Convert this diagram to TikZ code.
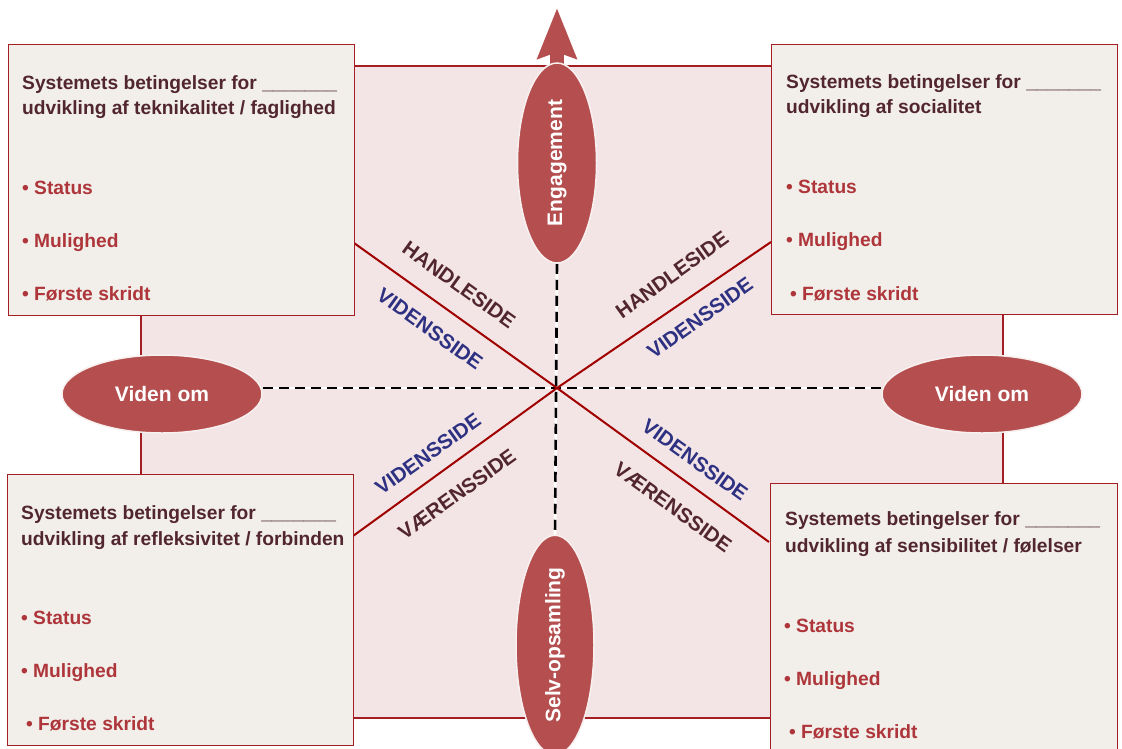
\documentclass[tikz,border=0pt]{standalone}
\usepackage{fontspec}
\setmainfont{Liberation Sans}
\usetikzlibrary{shapes.geometric,arrows.meta}
\definecolor{pinkbg}{HTML}{F3E5E5}
\definecolor{boxbg}{HTML}{F2EFEB}
\definecolor{dred}{HTML}{A31F24}
\definecolor{ellc}{HTML}{B54E4E}
\definecolor{titlec}{HTML}{52262F}
\definecolor{bullc}{HTML}{AE363B}
\definecolor{navyc}{HTML}{2E3182}
\definecolor{linered}{HTML}{A00000}
\tikzset{
  infobox/.style={draw=dred, fill=boxbg, line width=1pt, inner sep=0pt, anchor=north west},
  titletext/.style={anchor=base west, inner sep=0pt, text=titlec, font=\fontsize{19.2}{22}\selectfont\bfseries},
  bullettext/.style={anchor=base west, inner sep=0pt, text=bullc, font=\fontsize{19.2}{22}\selectfont\bfseries},
  ellnode/.style={ellipse, fill=ellc, draw=pinkbg!60!white, line width=1.5pt, inner sep=0pt, text=white, font=\fontsize{21}{24}\selectfont\bfseries},
  dashline/.style={black, line width=2.6pt, dash pattern=on 10pt off 6pt},
  gapline/.style={white, line width=2.6pt},
  diagline/.style={linered, line width=2pt},
  sidelabel/.style={inner sep=0pt, font=\fontsize{20.5}{24}\selectfont\bfseries},
}
\begin{document}
\begin{tikzpicture}[x=1pt,y=-1pt]
\useasboundingbox (0,0) rectangle (1122,748);
% background panel
\fill[pinkbg, draw=dred, line width=1.2pt] (141,66) rectangle (1003,718);

% ellipses
\node[ellnode, minimum width=79pt, minimum height=200pt] (eng) at (557,163) {\rotatebox{90}{Engagement}};
\node[ellnode, minimum width=78pt, minimum height=198pt] (selv) at (555,645) {\rotatebox{90}{Selv-opsamling}};
\node[ellnode, minimum width=200pt, minimum height=78pt] (vl) at (162,394) {Viden om};
\node[ellnode, minimum width=200pt, minimum height=78pt] (vr) at (982,394) {Viden om};

% diagonals centre
\coordinate (ctr) at (557,388);

% dashed axes
\draw[gapline] (eng.south) -- (selv.north);
\draw[dashline] (eng.south) -- (selv.north);
\draw[gapline] (vl.east |- ctr) -- (vr.west |- ctr);
\draw[dashline] (vl.east |- ctr) -- (vr.west |- ctr);

% diagonals
\coordinate (dTL) at (354,243);
\coordinate (dBR) at (769,542);
\coordinate (dTR) at (771,242);
\coordinate (dBL) at (353,536);
\draw[diagline] (dTL) -- (ctr) -- (dBR);
\draw[diagline] (dTR) -- (ctr) -- (dBL);

% engagement arrow
\coordinate (arrtip) at (557,8);
\draw[ellc, line width=14pt, -{Stealth[length=50pt 0 0, width=38pt 0 0, inset=6pt 0 0]}] (eng.center) -- (arrtip);
\node[ellnode, minimum width=79pt, minimum height=200pt] at (eng.center) {\rotatebox{90}{Engagement}};

% boxes
\node[infobox, minimum width=346pt, minimum height=271pt] (bTL) at (8,44) {};
\node[infobox, minimum width=346pt, minimum height=270pt] (bTR) at (771,44) {};
\node[infobox, minimum width=346pt, minimum height=271pt] (bBL) at (7,474) {};
\node[infobox, minimum width=347pt, minimum height=280pt] (bBR) at (770,483) {};

% box texts TL
\node[titletext] (tl1) at (22,89) {Systemets betingelser for \_\_\_\_\_\_\_};
\node[titletext] (tl2) at (22,114) {udvikling af teknikalitet / faglighed};
\node[bullettext] (tl3) at (22,194) {\textbullet\ Status};
\node[bullettext] (tl4) at (22,247) {\textbullet\ Mulighed};
\node[bullettext] (tl5) at (22,300) {\textbullet\ Første skridt};
% TR
\node[titletext] (tr1) at (786,88) {Systemets betingelser for \_\_\_\_\_\_\_};
\node[titletext] (tr2) at (786,113) {udvikling af socialitet};
\node[bullettext] (tr3) at (786,193) {\textbullet\ Status};
\node[bullettext] (tr4) at (786,246) {\textbullet\ Mulighed};
\node[bullettext] (tr5) at (790,300) {\textbullet\ Første skridt};
% BL
\node[titletext] (bl1) at (21,519) {Systemets betingelser for \_\_\_\_\_\_\_};
\node[titletext] (bl2) at (21,545) {udvikling af refleksivitet / forbinden};
\node[bullettext] (bl3) at (21,624) {\textbullet\ Status};
\node[bullettext] (bl4) at (21,677) {\textbullet\ Mulighed};
\node[bullettext] (bl5) at (26,730) {\textbullet\ Første skridt};
% BR
\node[titletext] (br1) at (785,525) {Systemets betingelser for \_\_\_\_\_\_\_};
\node[titletext] (br2) at (785,552) {udvikling af sensibilitet / følelser};
\node[bullettext] (br3) at (784,632) {\textbullet\ Status};
\node[bullettext] (br4) at (784,685) {\textbullet\ Mulighed};
\node[bullettext] (br5) at (789,738) {\textbullet\ Første skridt};

% side labels
\node[sidelabel, text=titlec, rotate=-35.7] (hTL) at (459,285) {HANDLESIDE};
\node[sidelabel, text=navyc, rotate=-35.7] (vTL) at (430,329) {VIDENSSIDE};
\node[sidelabel, text=titlec, rotate=35.7] (hTR) at (672,275) {HANDLESIDE};
\node[sidelabel, text=navyc, rotate=35.7] (vTR) at (700,318) {VIDENSSIDE};
\node[sidelabel, text=navyc, rotate=35.7] (vBL) at (428,454) {VIDENSSIDE};
\node[sidelabel, text=titlec, rotate=35.7] (wBL) at (457,494) {VÆRENSSIDE};
\node[sidelabel, text=navyc, rotate=-35.7] (vBR) at (695,460) {VIDENSSIDE};
\node[sidelabel, text=titlec, rotate=-35.7] (wBR) at (673,507) {VÆRENSSIDE};
\end{tikzpicture}
\end{document}
